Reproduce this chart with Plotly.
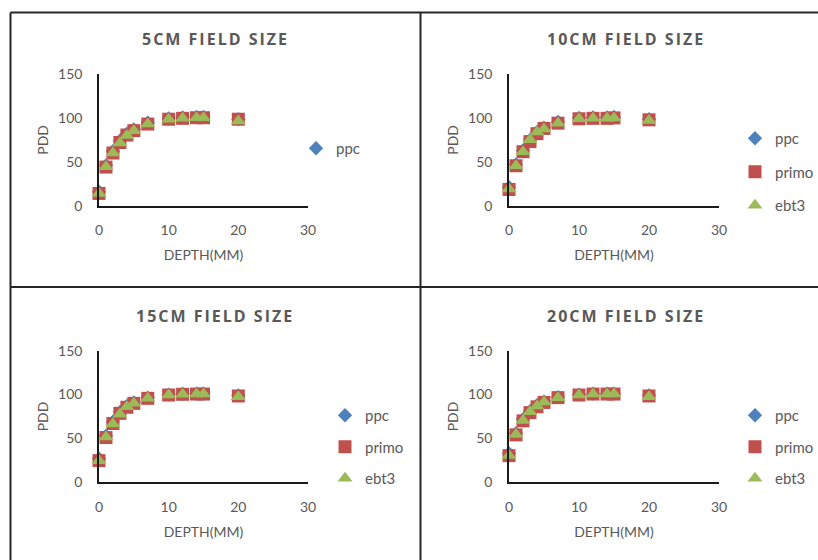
import plotly.graph_objects as go

depth = [0, 1, 2, 3, 4, 5, 7, 10, 12, 14, 15, 20]

titles = ["5CM FIELD SIZE", "10CM FIELD SIZE", "15CM FIELD SIZE", "20CM FIELD SIZE"]

ppc_5 = [16, 46, 62, 74, 82, 87, 94.5, 99.5, 100.5, 101, 101, 98.5]
primo_5 = [14, 44, 60, 72, 80.5, 85.5, 93, 98.5, 99.5, 100.2, 100.2, 98.5]
ebt3_5 = [14, 44.5, 60, 71.5, 80, 85.5, 93, 98.5, 99.5, 100.2, 100.2, 96.5]

ppc_10 = [21, 47, 63, 75, 84, 89, 95.5, 100, 100.5, 100.5, 101, 98.5]
primo_10 = [18.5, 45.5, 61.5, 73, 82, 88, 94, 99, 99.5, 99.5, 100, 97.8]
ebt3_10 = [19, 45.5, 61.5, 75, 84, 87.5, 94, 99, 99.5, 99.5, 100, 97]

ppc_15 = [27, 53, 69, 80, 87, 91, 96.5, 100, 101, 101, 101, 99]
primo_15 = [24.7, 51, 67, 78.6, 85.5, 90, 95.7, 99.5, 100.3, 100.6, 100.6, 98.4]
ebt3_15 = [24.5, 51.5, 66.5, 77.5, 86, 90, 95.7, 99.5, 100.3, 100.6, 100.6, 97.5]

ppc_20 = [33, 56, 72, 81, 88, 92, 97, 100, 101, 101, 101, 99]
primo_20 = [30.4, 54, 70, 79.4, 86, 91, 96.5, 99.5, 100.6, 100.6, 100.6, 98.4]
ebt3_20 = [30.5, 54.5, 70.5, 80.5, 87, 91.5, 96.5, 99.5, 100.6, 100.6, 100.6, 97.5]

series = [
    (ppc_5, primo_5, ebt3_5),
    (ppc_10, primo_10, ebt3_10),
    (ppc_15, primo_15, ebt3_15),
    (ppc_20, primo_20, ebt3_20),
]

W, H = 818, 560
GRAY = "#595959"
FONT = "Lato"
BLUE, RED, GREEN = "#4F81BD", "#C0504D", "#9BBB59"


def px(x):
    return x / W


def py(y):
    return 1 - y / H


# plot areas in pixels: (x0, x1, ytop, ybottom)
areas = [
    (99, 308, 74, 205.7),
    (509, 719, 74, 205.7),
    (99, 308, 350.7, 482.3),
    (509, 719, 350.7, 482.3),
]
title_pos = [(215, 39), (625.5, 39), (215, 315.7), (625.5, 315.7)]
legend_pos = [(296, 132), (735, 122), (325, 399), (735, 399)]
legend_gap = [11, 11, 9, 9]

fig = go.Figure()
layout = dict(
    width=W, height=H, margin=dict(l=0, r=0, t=0, b=0, autoexpand=False),
    paper_bgcolor="white", plot_bgcolor="white",
    font=dict(family=FONT, color=GRAY, size=14),
    annotations=[], shapes=[],
)

for i, (ppc, primo, ebt3) in enumerate(series):
    n = "" if i == 0 else str(i + 1)
    leg = "legend" + n
    for name, vals, sym, col in [("ppc", ppc, "diamond", BLUE),
                                 ("primo", primo, "square", RED),
                                 ("ebt3", ebt3, "triangle-up", GREEN)]:
        fig.add_trace(go.Scatter(
            x=depth, y=vals, mode="markers", name=name,
            xaxis="x" + n, yaxis="y" + n,
            marker=dict(symbol=sym, color=col, size=13 if sym != "diamond" else 11,
                        line=dict(width=0)),
            cliponaxis=False,
            legend=leg, legendgroup=name + n,
            showlegend=(i > 0 or name == "ppc"),
        ))
    x0, x1, yt, yb = areas[i]
    layout["xaxis" + n] = dict(
        domain=[px(x0), px(x1)], anchor="y" + n, range=[0, 30], dtick=10,
        showline=True, linecolor="#1a1a1a", linewidth=1.5, showgrid=False,
        zeroline=False, ticks="", ticklabelstandoff=11, automargin=False,
        tickfont=dict(size=14, color=GRAY, family=FONT),
        title=dict(text="DEPTH(MM)", standoff=13, font=dict(size=14, color=GRAY, family=FONT)),
    )
    layout["yaxis" + n] = dict(
        domain=[py(yb), py(yt)], anchor="x" + n, range=[0, 150], dtick=50,
        showline=True, linecolor="#1a1a1a", linewidth=1.5, showgrid=False,
        zeroline=False, ticks="", ticklabelstandoff=12, automargin=False,
        tickfont=dict(size=14, color=GRAY, family=FONT),
        title=dict(text="PDD", standoff=6, font=dict(size=14, color=GRAY, family=FONT)),
    )
    lx, ly = legend_pos[i]
    layout[leg] = dict(
        x=px(lx), y=py(ly), xanchor="left", yanchor="top",
        bgcolor="rgba(0,0,0,0)", font=dict(size=15, color=GRAY, family=FONT),
        traceorder="grouped", tracegroupgap=legend_gap[i], itemwidth=30,
    )
    tx, ty = title_pos[i]
    layout["annotations"].append(dict(
        text='<span style="letter-spacing:2px">' + titles[i] + '</span>',
        x=px(tx), y=py(ty), xref="paper", yref="paper",
        showarrow=False, xanchor="center", yanchor="middle",
        font=dict(size=16, color=GRAY, family="Open Sans", weight="bold"),
    ))

# panel borders
lc = dict(color="#262626", width=2)
for (xa, ya, xb, yb) in [(10.5, 12.5, 818, 12.5), (10.5, 287, 818, 287),
                         (10.5, 12.5, 10.5, 560), (420.5, 12.5, 420.5, 560)]:
    layout["shapes"].append(dict(type="line", xref="paper", yref="paper",
                                 x0=px(xa), y0=py(ya), x1=px(xb), y1=py(yb), line=lc))

fig.update_layout(**layout)
fig.write_html(
    "out.html",
    config={"displayModeBar": False},
    post_script="document.body.style.margin='0';document.body.style.overflow='hidden';",
)
